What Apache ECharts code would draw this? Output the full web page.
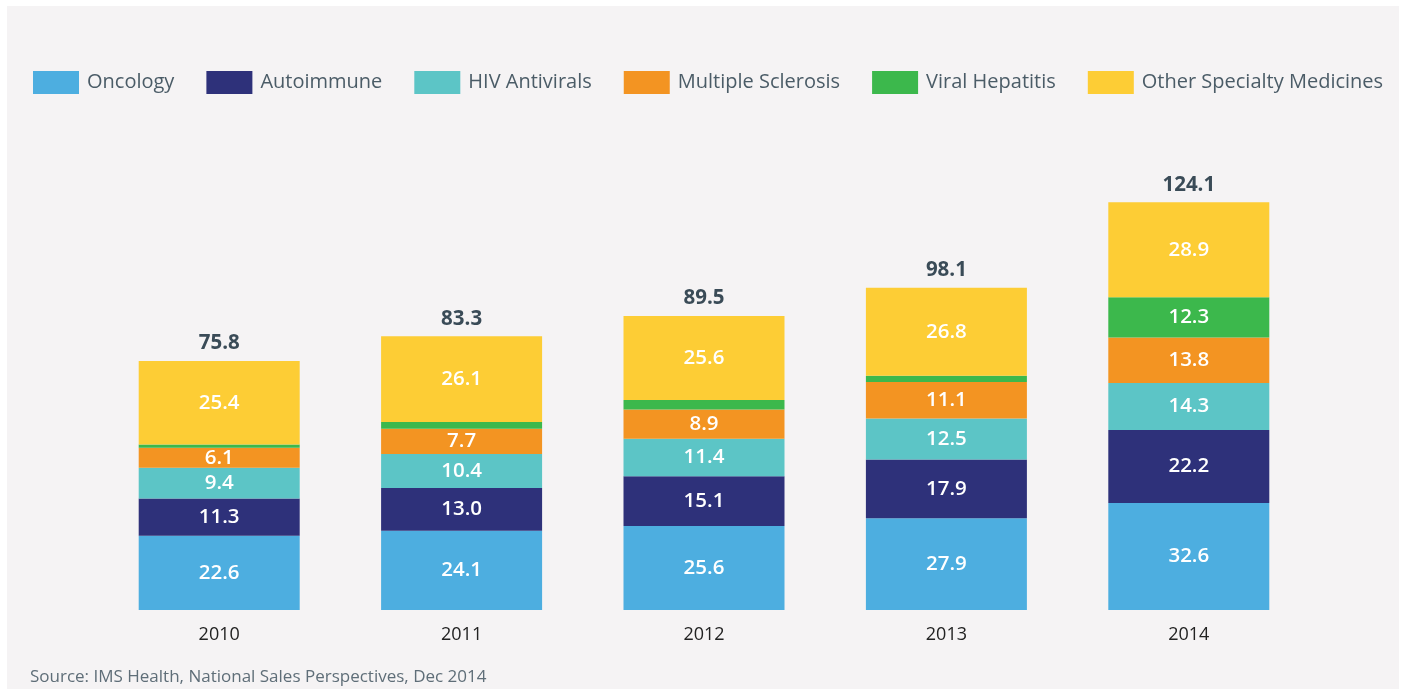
<!DOCTYPE html>
<html>
<head>
<meta charset="utf-8">
<script src="https://cdn.jsdelivr.net/npm/echarts@6/dist/echarts.min.js"></script>
<style>
  html, body { margin: 0; padding: 0; background: #ffffff; }
  #panel { position: absolute; left: 7px; top: 6px; width: 1392px; height: 683px; background: #f5f3f4; }
  #chart { position: absolute; left: 0; top: 0; width: 1403px; height: 689px; }
</style>
</head>
<body>
<div id="panel"></div>
<div id="chart"></div>
<script>
const years = ['2010', '2011', '2012', '2013', '2014']
const oncology = [22.6, 24.1, 25.6, 27.9, 32.6]
const autoimmune = [11.3, 13.0, 15.1, 17.9, 22.2]
const hivAntivirals = [9.4, 10.4, 11.4, 12.5, 14.3]
const multipleSclerosis = [6.1, 7.7, 8.9, 11.1, 13.8]
const viralHepatitis = [1.0, 2.0, 2.9, 1.9, 12.3]
const otherSpecialty = [25.4, 26.1, 25.6, 26.8, 28.9]
const totals = [75.8, 83.3, 89.5, 98.1, 124.1]

const seriesDefs = [
  { name: 'Oncology', data: oncology, color: '#4daee0' },
  { name: 'Autoimmune', data: autoimmune, color: '#2e317a' },
  { name: 'HIV Antivirals', data: hivAntivirals, color: '#5cc5c6' },
  { name: 'Multiple Sclerosis', data: multipleSclerosis, color: '#f39422' },
  { name: 'Viral Hepatitis', data: viralHepatitis, color: '#3cb84c' },
  { name: 'Other Specialty Medicines', data: otherSpecialty, color: '#fdcd35' }
]

const font = "'Open Sans', 'Noto Sans', sans-serif"
const chart = echarts.init(document.getElementById('chart'))

const series = seriesDefs.map(s => ({
  name: s.name,
  type: 'bar',
  stack: 'all',
  barWidth: 161,
  data: s.data,
  itemStyle: { color: s.color },
  label: {
    show: true,
    position: 'inside',
    color: '#ffffff',
    fontFamily: font,
    fontSize: 20.5,
    fontWeight: 600,
    formatter: p => (p.value < 3 ? '' : p.value.toFixed(1))
  },
  emphasis: { disabled: true }
}))

// totals drawn as an empty bar behind the stacks, just to place the label on top
series.push({
  name: 'Total',
  type: 'bar',
  barWidth: 161,
  barGap: '-100%',
  z: 1,
  data: totals,
  itemStyle: { color: 'rgba(0,0,0,0)' },
  label: {
    show: true,
    position: 'top',
    distance: 7,
    color: '#3a4b57',
    fontFamily: font,
    fontSize: 20.5,
    fontWeight: 700,
    formatter: p => p.value.toFixed(1)
  },
  emphasis: { disabled: true }
})

chart.setOption({
  animation: false,
  backgroundColor: 'transparent',
  textStyle: { fontFamily: font },
  legend: {
    data: seriesDefs.map(s => s.name),
    left: 33,
    top: 71,
    padding: 0,
    itemWidth: 46,
    itemHeight: 23,
    itemGap: 32,
    itemStyle: { borderWidth: 0 },
    icon: 'rect',
    textStyle: {
      color: '#4b5c67',
      fontSize: 20,
      fontFamily: font,
      padding: [0, 0, 0, 3]
    }
  },
  grid: {
    left: 98,
    right: 93,
    top: 150,
    bottom: 79,
    containLabel: false
  },
  xAxis: {
    type: 'category',
    data: years,
    axisLine: { show: false },
    axisTick: { show: false },
    axisLabel: {
      color: '#222222',
      fontSize: 18,
      fontFamily: font,
      margin: 16
    }
  },
  yAxis: {
    type: 'value',
    min: 0,
    max: 140,
    show: false,
    splitLine: { show: false }
  },
  graphic: [
    {
      type: 'text',
      left: 30,
      top: 669,
      style: {
        text: 'Source: IMS Health, National Sales Perspectives, Dec 2014',
        fill: '#5f6e78',
        fontSize: 17,
        fontFamily: font
      }
    }
  ],
  series: series
})
</script>
</body>
</html>
